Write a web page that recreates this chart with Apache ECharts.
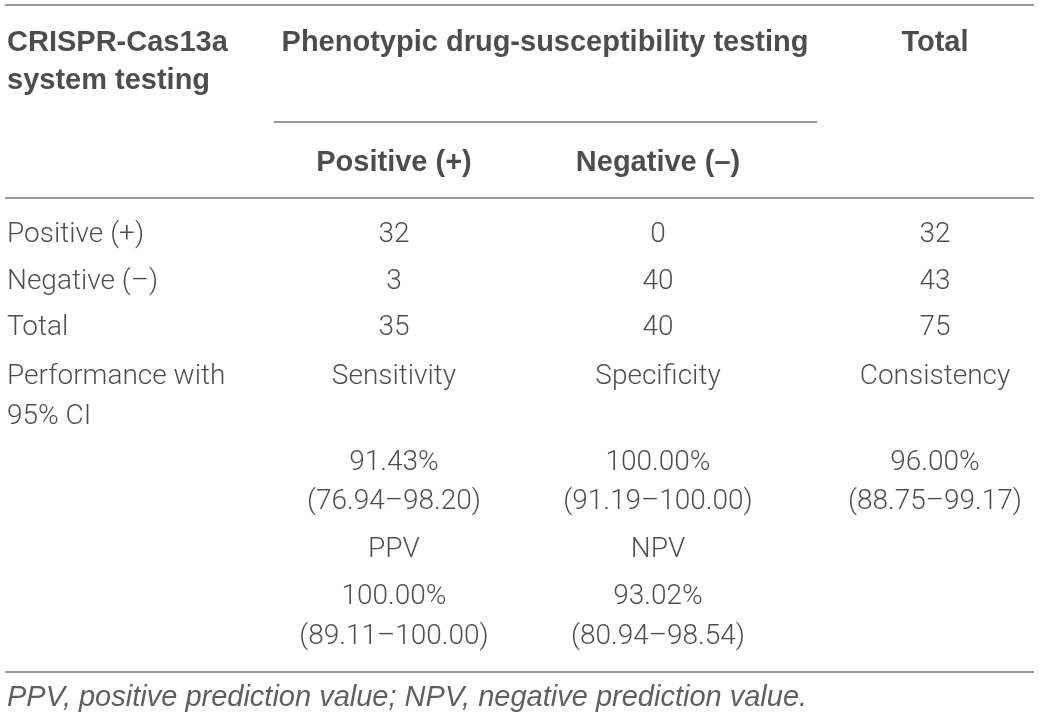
<!DOCTYPE html>
<html lang="en">

<head>
    <meta charset="UTF-8">
    <title>CRISPR-Cas13a vs phenotypic DST</title>
    <style>
        html,
        body,
        #main {
            width: 100%;
            height: 100%;
            margin: 0;
            padding: 0;
            background-color: #ffffff;
        }
    </style>
    <script src="https://cdn.jsdelivr.net/npm/echarts@6/dist/echarts.min.js"></script>
</head>

<body>
    <div id="main"></div>
    <script>
        // Table content
        const rowHeaderLines = ['CRISPR-Cas13a', 'system testing'];
        const colHeaders = ['Phenotypic drug-susceptibility testing', 'Total'];
        const subHeaders = ['Positive (+)', 'Negative (–)'];
        const rowLabels = ['Positive (+)', 'Negative (–)', 'Total'];
        const positiveCounts = [32, 3, 35];
        const negativeCounts = [0, 40, 40];
        const totalCounts = [32, 43, 75];
        const perfLabelLines = ['Performance with', '95% CI'];
        const metricNames = ['Sensitivity', 'Specificity', 'Consistency'];
        const metricValues = ['91.43%', '100.00%', '96.00%'];
        const metricCI = ['(76.94–98.20)', '(91.19–100.00)', '(88.75–99.17)'];
        const predNames = ['PPV', 'NPV'];
        const predValues = ['100.00%', '93.02%'];
        const predCI = ['(89.11–100.00)', '(80.94–98.54)'];
        const footnote = 'PPV, positive prediction value; NPV, negative prediction value.';

        // Layout (pixel-like units on hidden axes)
        const colX = [7, 394, 658, 935];
        const spanX = 545;
        const headerY = [43, 81];
        const subHeaderY = 163;
        const bodyY = [235, 282, 328];
        const perfY = [377, 417];
        const metricY = [463, 502];
        const predY = [550, 597, 637];
        const footY = 698;
        const rules = [
            { y: 5, x: [5, 1034] },
            { y: 122, x: [274, 817] },
            { y: 198, x: [5, 1034] },
            { y: 672, x: [5, 1034] }
        ];

        const textColor = '#231f20';
        const bodyFont = { fontFamily: 'Roboto', fontWeight: 300, fontSize: 28, color: textColor };
        const boldFont = { fontFamily: 'Liberation Sans', fontWeight: 'bold', fontSize: 29, color: textColor };
        const italicFont = { fontFamily: 'Liberation Sans', fontWeight: 'normal', fontStyle: 'italic', fontSize: 29, color: '#3a3637' };

        function cell(text, x, y, font, align) {
            return {
                value: [x, y],
                label: Object.assign({
                    show: true,
                    position: 'inside',
                    formatter: String(text),
                    align: align || 'center',
                    verticalAlign: 'middle'
                }, font)
            };
        }

        const cells = [];
        rowHeaderLines.forEach((t, i) => cells.push(cell(t, colX[0], headerY[i], boldFont, 'left')));
        cells.push(cell(colHeaders[0], spanX, headerY[0], boldFont));
        cells.push(cell(colHeaders[1], colX[3], headerY[0], boldFont));
        subHeaders.forEach((t, i) => cells.push(cell(t, colX[i + 1], subHeaderY, boldFont)));

        rowLabels.forEach((t, i) => {
            cells.push(cell(t, colX[0], bodyY[i], bodyFont, 'left'));
            cells.push(cell(positiveCounts[i], colX[1], bodyY[i], bodyFont));
            cells.push(cell(negativeCounts[i], colX[2], bodyY[i], bodyFont));
            cells.push(cell(totalCounts[i], colX[3], bodyY[i], bodyFont));
        });

        perfLabelLines.forEach((t, i) => cells.push(cell(t, colX[0], perfY[i], bodyFont, 'left')));
        metricNames.forEach((t, i) => {
            cells.push(cell(t, colX[i + 1], perfY[0], bodyFont));
            cells.push(cell(metricValues[i], colX[i + 1], metricY[0], bodyFont));
            cells.push(cell(metricCI[i], colX[i + 1], metricY[1], bodyFont));
        });
        predNames.forEach((t, i) => {
            cells.push(cell(t, colX[i + 1], predY[0], bodyFont));
            cells.push(cell(predValues[i], colX[i + 1], predY[1], bodyFont));
            cells.push(cell(predCI[i], colX[i + 1], predY[2], bodyFont));
        });
        cells.push(cell(footnote, colX[0], footY, italicFont, 'left'));

        const ruleSeries = rules.map(r => ({
            type: 'line',
            data: [[r.x[0], r.y], [r.x[1], r.y]],
            symbol: 'none',
            silent: true,
            lineStyle: { color: '#9a9a9a', width: 2 }
        }));

        var chart = echarts.init(document.getElementById('main'));

        var option = {
            animation: false,
            grid: { left: 0, right: 0, top: 0, bottom: 0 },
            xAxis: { type: 'value', min: 0, max: 1040, show: false },
            yAxis: { type: 'value', min: 0, max: 720, inverse: true, show: false },
            series: ruleSeries.concat([
                {
                    type: 'scatter',
                    silent: true,
                    symbolSize: 1,
                    itemStyle: { color: 'transparent' },
                    data: cells
                }
            ])
        };

        chart.setOption(option);
    </script>
</body>

</html>
